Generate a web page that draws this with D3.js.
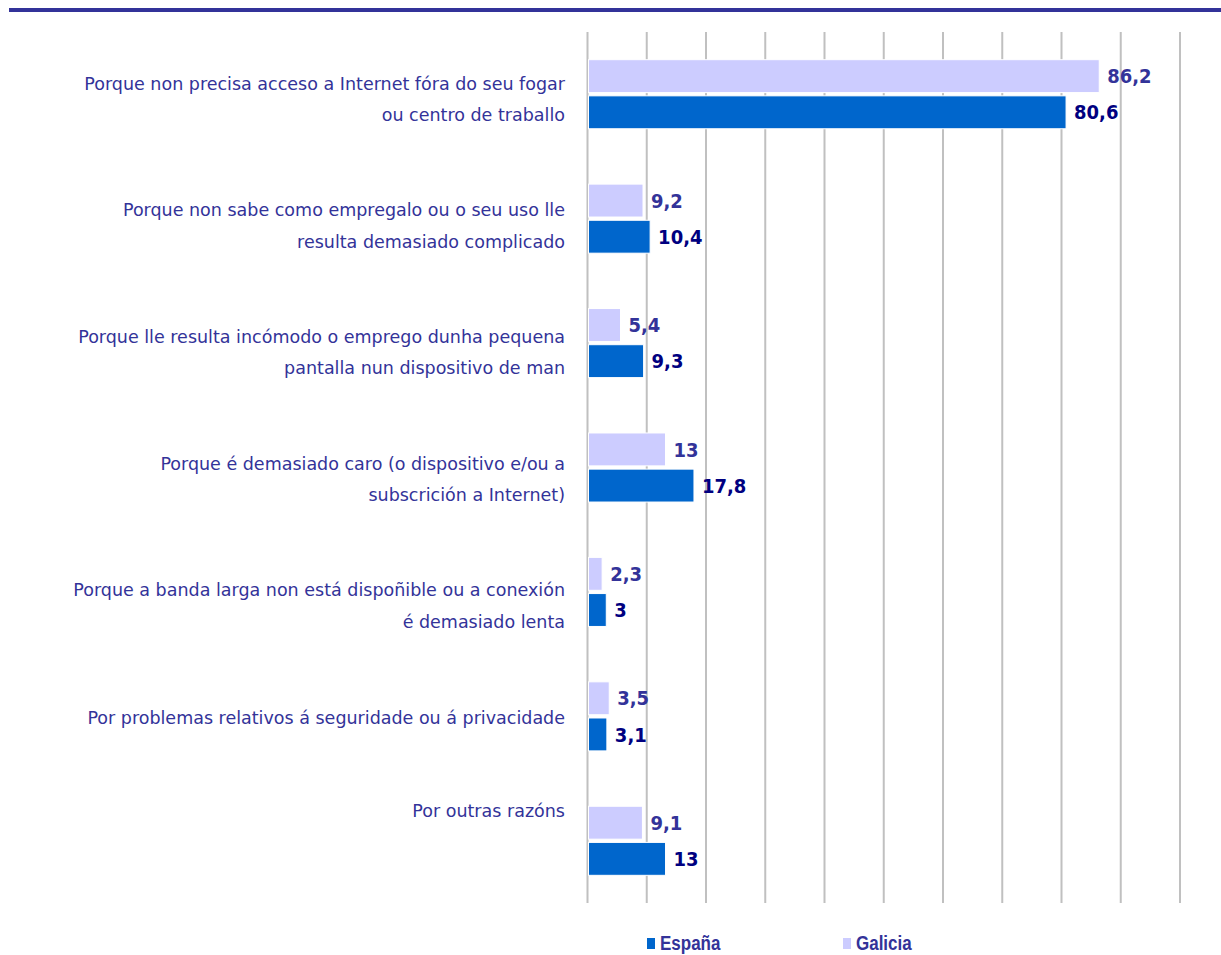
<!DOCTYPE html>
<html>
<head>
<meta charset="utf-8">
<script src="https://cdn.jsdelivr.net/npm/d3@7"></script>
<style>
  html, body { margin: 0; padding: 0; background: #fff; }
  svg { display: block; }
</style>
</head>
<body>
<svg id="chart" width="1221" height="955"></svg>
<script>
// ---- data ----
const categories = [
  ["Porque non precisa acceso a Internet fóra do seu fogar", "ou centro de traballo"],
  ["Porque non sabe como empregalo ou o seu uso lle", "resulta demasiado complicado"],
  ["Porque lle resulta incómodo o emprego dunha pequena", "pantalla nun dispositivo de man"],
  ["Porque é demasiado caro (o dispositivo e/ou a", "subscrición a Internet)"],
  ["Porque a banda larga non está dispoñible ou a conexión", "é demasiado lenta"],
  ["Por problemas relativos á seguridade ou á privacidade"],
  ["Por outras razóns", "", ""]
];
const seriesNames = ["Galicia", "España"];
const galicia = [86.2, 9.2, 5.4, 13, 2.3, 3.5, 9.1];
const espana  = [80.6, 10.4, 9.3, 17.8, 3, 3.1, 13];
const xTicks = [0, 10, 20, 30, 40, 50, 60, 70, 80, 90, 100];
const legendOrder = ["España", "Galicia"];

// ---- styles ----
const colors = { "Galicia": "#CCCCFF", "España": "#0066CC" };
const labelColors = { "Galicia": "#333399", "España": "#000080" };
const textColor = "#333399";
const fmt = v => String(v).replace(".", ",");

const svg = d3.select("#chart");

// top rule
svg.append("rect").attr("x", 9).attr("y", 8).attr("width", 1212).attr("height", 4).attr("fill", "#333399");

const idx = d3.range(categories.length);
const x = d3.scaleLinear().domain([0, 100]).range([587.5, 1180]);
const y = d3.scaleBand().domain(idx).range([32, 903]).paddingInner(0.445).paddingOuter(0.2225);
const yStep = d3.scaleBand().domain(idx).range([32, 903]);
const ySub = d3.scaleBand().domain(seriesNames).range([0, y.bandwidth()]).paddingInner(0.09);

// gridlines
svg.append("g").selectAll("line").data(xTicks).join("line")
  .attr("x1", d => x(d)).attr("x2", d => x(d))
  .attr("y1", 32).attr("y2", 903)
  .attr("stroke", "#C0C0C0").attr("stroke-width", 2);

const rows = idx.map(i => ({ i, vals: { "Galicia": galicia[i], "España": espana[i] } }));

const g = svg.append("g").selectAll("g").data(rows).join("g")
  .attr("transform", d => `translate(0,${y(d.i)})`);

g.selectAll("rect").data(d => seriesNames.map(s => ({ s, v: d.vals[s] }))).join("rect")
  .attr("x", x(0) + 1)
  .attr("y", d => ySub(d.s))
  .attr("width", d => x(d.v) - x(0))
  .attr("height", ySub.bandwidth())
  .attr("fill", d => colors[d.s])
  .attr("stroke", "#fff").attr("stroke-width", 1);

g.selectAll("text").data(d => seriesNames.map(s => ({ s, v: d.vals[s] }))).join("text")
  .attr("transform", d => `translate(${x(d.v) + 9},${ySub(d.s) + ySub.bandwidth() / 2}) scale(1,1.1)`)
  .attr("dy", "0.36em")
  .attr("font-family", "DejaVu Sans, Verdana, sans-serif")
  .attr("font-weight", "bold")
  .attr("font-size", 18)
  .attr("fill", d => labelColors[d.s])
  .text(d => fmt(d.v));

// category labels
const lineH = 31.5;
const lab = svg.append("g").selectAll("text").data(idx).join("text")
  .attr("font-family", "DejaVu Sans, Verdana, sans-serif")
  .attr("font-size", 17.5)
  .attr("fill", textColor)
  .attr("text-anchor", "end");
lab.each(function(i) {
  const lines = categories[i];
  const n = lines.length;
  const c = yStep(i) + yStep.bandwidth() / 2 + (n === 2 ? 4.75 + 2.3 * i : 1);
  d3.select(this).selectAll("tspan").data(lines).join("tspan")
    .attr("x", 565)
    .attr("y", (t, k) => c + (k - (n - 1) / 2) * lineH)
    .attr("dy", "0.36em")
    .text(t => t);
});

// legend
const legendPos = { "España": 647, "Galicia": 843 };
const lg = svg.append("g").selectAll("g").data(legendOrder).join("g")
  .attr("transform", d => `translate(${legendPos[d]},0)`);
lg.append("rect").attr("x", 0).attr("y", 938).attr("width", 8).attr("height", 11)
  .attr("fill", d => colors[d]);
lg.append("text")
  .attr("transform", "translate(13,950) scale(1,1.15)")
  .attr("font-family", "Liberation Sans, Arial, sans-serif")
  .attr("font-weight", "bold").attr("font-size", 17)
  .attr("fill", textColor)
  .text(d => d);
</script>
</body>
</html>
